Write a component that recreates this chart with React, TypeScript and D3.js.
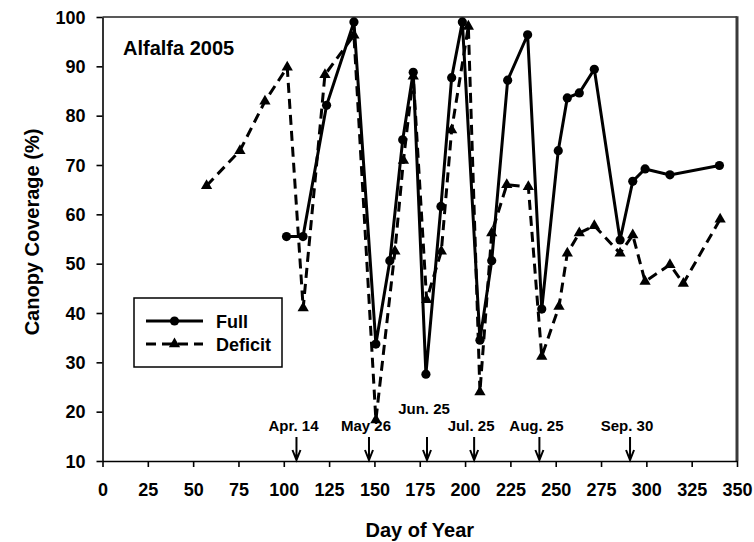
import React, { useEffect, useRef } from "react";
import * as d3 from "d3";

const fullDays = [101.5, 110.6, 123.6, 138.7, 150.8, 158.5, 165.6, 171.4, 178.4, 186.7, 192.6, 198.5, 208.2, 214.7, 223.5, 234.5, 242.3, 251.4, 256.4, 263, 271.3, 285.5, 292.5, 299.3, 313, 340.3];
const fullValues = [55.5, 55.5, 82.1, 99, 33.7, 50.6, 75.1, 88.8, 27.6, 61.6, 87.7, 99, 34.5, 50.6, 87.2, 96.4, 40.8, 72.9, 83.6, 84.6, 89.4, 54.8, 66.7, 69.2, 68, 69.9];

const deficitDays = [57.4, 75.8, 89.6, 101.9, 110.7, 122.7, 138.7, 150.8, 161.3, 166, 171.4, 178.8, 186.9, 192.6, 201.8, 208.2, 214.7, 223, 234.9, 242.3, 251.8, 256.4, 263, 271.3, 285.5, 292.5, 299.3, 313, 320.4, 340.7];
const deficitValues = [65.8, 72.9, 82.9, 89.8, 41, 88.3, 96.3, 18.3, 52.5, 70.9, 88, 42.7, 52.5, 77.1, 98.1, 24, 56.2, 66, 65.6, 31.2, 41.3, 52.1, 56.2, 57.7, 52.1, 55.8, 46.4, 49.8, 46, 59];

const xTicks = [0, 25, 50, 75, 100, 125, 150, 175, 200, 225, 250, 275, 300, 325, 350];
const yTicks = [10, 20, 30, 40, 50, 60, 70, 80, 90, 100];

const eventDays = [107, 147, 179, 205, 241, 291];
const eventLabels = ["Apr. 14", "May 26", "Jun. 25", "Jul. 25", "Aug. 25", "Sep. 30"];

const FONT = "'Liberation Sans', Arial, sans-serif";

const App: React.FC = () => {
	const svgRef = useRef<SVGSVGElement | null>(null);

	useEffect(() => {
		const svg = d3.select(svgRef.current);
		svg.selectAll("*").remove();

		const left = 102.5;
		const right = 737;
		const top = 17;
		const bottom = 461;

		const x = d3.scaleLinear().domain([0, 350]).range([left, right]);
		const y = d3.scaleLinear().domain([10, 100]).range([bottom, top]);

		// frame: thin top, heavier right edge
		svg.append("line")
			.attr("x1", left).attr("x2", right)
			.attr("y1", top).attr("y2", top)
			.attr("stroke", "#222").attr("stroke-width", 1.5);
		svg.append("line")
			.attr("x1", right).attr("x2", right)
			.attr("y1", top - 0.75).attr("y2", bottom)
			.attr("stroke", "#3a3a3a").attr("stroke-width", 3);

		const yAxis = svg.append("g")
			.attr("transform", `translate(${left},0)`)
			.call(d3.axisLeft(y).tickValues(yTicks).tickSize(6).tickSizeOuter(0).tickPadding(11));
		const xAxis = svg.append("g")
			.attr("transform", `translate(0,${bottom})`)
			.call(d3.axisBottom(x).tickValues(xTicks).tickSize(6).tickSizeOuter(0).tickPadding(16));

		[xAxis, yAxis].forEach((a) => {
			a.selectAll("path, line").attr("stroke", "#000").attr("stroke-width", 1.6);
			a.selectAll("text")
				.attr("fill", "#000")
				.attr("font-family", FONT)
				.attr("font-weight", "bold")
				.attr("font-size", 18);
		});
		yAxis.selectAll("text").attr("dy", "0.35em");

		svg.append("text")
			.attr("transform", `translate(39,${(top + bottom) / 2 - 7}) rotate(-90)`)
			.attr("text-anchor", "middle")
			.attr("font-family", FONT)
			.attr("font-weight", "bold")
			.attr("font-size", 20)
			.text("Canopy Coverage (%)");

		svg.append("text")
			.attr("x", (left + right) / 2)
			.attr("y", 537)
			.attr("text-anchor", "middle")
			.attr("font-family", FONT)
			.attr("font-weight", "bold")
			.attr("font-size", 20)
			.text("Day of Year");

		svg.append("text")
			.attr("x", 123)
			.attr("y", 55)
			.attr("font-family", FONT)
			.attr("font-weight", "bold")
			.attr("font-size", 20)
			.text("Alfalfa 2005");

		// date arrows and labels
		const ev = svg.append("g");
		eventDays.forEach((d, i) => {
			const ax = x(d);
			ev.append("path")
				.attr("d", `M${ax},${bottom - 24}V${bottom - 1}M${ax - 4},${bottom - 11}L${ax},${bottom - 1}L${ax + 4},${bottom - 11}`)
				.attr("fill", "none")
				.attr("stroke", "#000")
				.attr("stroke-width", 2);
			ev.append("text")
				.attr("x", ax - 3)
				.attr("y", eventLabels[i] === "Jun. 25" ? bottom - 47 : bottom - 30)
				.attr("text-anchor", "middle")
				.attr("font-family", FONT)
				.attr("font-weight", "bold")
				.attr("font-size", 15)
				.text(eventLabels[i]);
		});

		const full = fullDays.map((d, i) => [d, fullValues[i]] as [number, number]);
		const deficit = deficitDays.map((d, i) => [d, deficitValues[i]] as [number, number]);

		const line = d3.line<[number, number]>()
			.x((d) => x(d[0]))
			.y((d) => y(d[1]));

		svg.append("path")
			.datum(deficit)
			.attr("d", line)
			.attr("fill", "none")
			.attr("stroke", "#000")
			.attr("stroke-width", 3)
			.attr("stroke-dasharray", "10,6");

		svg.append("path")
			.datum(full)
			.attr("d", line)
			.attr("fill", "none")
			.attr("stroke", "#000")
			.attr("stroke-width", 3);

		const tri = d3.symbol().type(d3.symbolTriangle).size(55);

		svg.append("g").selectAll("path")
			.data(deficit)
			.enter()
			.append("path")
			.attr("d", tri)
			.attr("transform", (d) => `translate(${x(d[0])},${y(d[1])})`)
			.attr("fill", "#000");

		svg.append("g").selectAll("circle")
			.data(full)
			.enter()
			.append("circle")
			.attr("cx", (d) => x(d[0]))
			.attr("cy", (d) => y(d[1]))
			.attr("r", 4.6)
			.attr("fill", "#000");

		// legend
		const lg = svg.append("g");
		lg.append("rect")
			.attr("x", 134).attr("y", 298)
			.attr("width", 148).attr("height", 69)
			.attr("fill", "#fff")
			.attr("stroke", "#000")
			.attr("stroke-width", 1.5);
		const items = [
			{ label: "Full", dash: null, sym: "circle", yy: 321 },
			{ label: "Deficit", dash: "10,6", sym: "tri", yy: 344 },
		];
		items.forEach((it) => {
			lg.append("line")
				.attr("x1", 146).attr("x2", 203)
				.attr("y1", it.yy).attr("y2", it.yy)
				.attr("stroke", "#000")
				.attr("stroke-width", 3)
				.attr("stroke-dasharray", it.dash);
			if (it.sym === "circle") {
				lg.append("circle").attr("cx", 174.5).attr("cy", it.yy).attr("r", 4.6).attr("fill", "#000");
			} else {
				lg.append("path").attr("d", tri).attr("transform", `translate(174.5,${it.yy})`).attr("fill", "#000");
			}
			lg.append("text")
				.attr("x", 216)
				.attr("y", it.yy + 6.5)
				.attr("font-family", FONT)
				.attr("font-weight", "bold")
				.attr("font-size", 18)
				.text(it.label);
		});
	}, []);

	return (
		<svg
			ref={svgRef}
			width={754}
			height={542}
			style={{ position: "absolute", left: 0, top: 0, background: "#fff" }}
		></svg>
	);
};

export default App;
